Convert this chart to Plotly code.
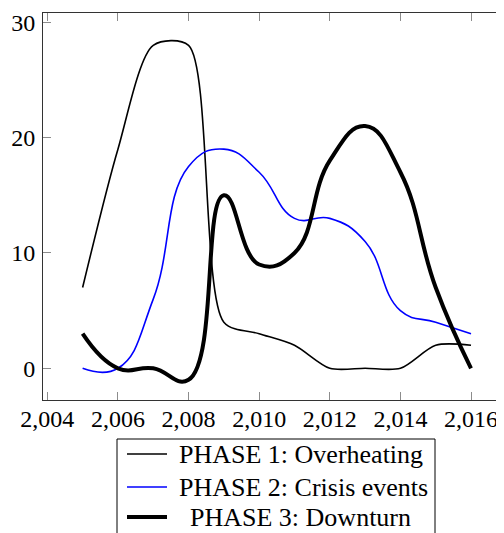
import plotly.graph_objects as go

years = [2005, 2006, 2007, 2008, 2009, 2010, 2011, 2012, 2013, 2014, 2015, 2016]
phase1 = [7, 19, 28, 28, 4, 3, 2, 0, 0, 0, 2, 2]
phase2 = [0, 0, 6, 17.5, 19, 17, 13, 13, 11, 5, 4, 3]
phase3 = [3, 0, 0, -1, 15, 9, 10, 18, 21, 17, 7, 0]
names = ["PHASE 1: Overheating", "PHASE 2: Crisis events", "PHASE 3: Downturn"]
colors = ["black", "#0000ff", "black"]
widths = [1.6, 1.6, 4]
smooth = [0.8, 1.3, 1.3]

xticks = [2004, 2006, 2008, 2010, 2012, 2014, 2016]
yticks = [0, 10, 20, 30]
xrange_ = [2003.878, 2016.934]
yrange_ = [-2.749, 30.806]

FONT = "Liberation Serif"
AXC = "#333333"
TKC = "#8c8c8c"

# page is rendered with an 8px body margin; plot area spans page x 43..504, y 13..400
PL, PR, PT, PB = 43.0, 504.0, 13.0, 400.0
def px(x):
    return (x - PL) / (PR - PL)
def py(y):
    return (PB - y) / (PB - PT)

fig = go.Figure()
for ys, n, c, w, s in zip([phase1, phase2, phase3], names, colors, widths, smooth):
    fig.add_trace(go.Scatter(x=years, y=ys, name=n, mode="lines", showlegend=False,
                             line=dict(color=c, width=w, shape="spline", smoothing=s)))
fig.add_trace(go.Scatter(x=[], y=[], xaxis="x2", yaxis="y2", showlegend=False, hoverinfo="skip"))

# legend drawn as box + sample lines + text
shapes = [dict(type="rect", xref="paper", yref="paper", x0=px(117), x1=px(435),
               y0=py(439), y1=py(580), line=dict(color="black", width=1),
               fillcolor="white", layer="above")]
annotations = []
row_y = [454, 487, 517]
for i, (n, c, w) in enumerate(zip(names, colors, widths)):
    shapes.append(dict(type="line", xref="paper", yref="paper", x0=px(127), x1=px(167),
                       y0=py(row_y[i]), y1=py(row_y[i]), line=dict(color=c, width=w),
                       layer="above"))
    if i < 2:
        annotations.append(dict(x=px(177), y=py(row_y[i]), xref="paper", yref="paper",
                                text=n, showarrow=False, xanchor="left", yanchor="middle",
                                font=dict(family=FONT, size=26, color="black")))
    else:
        annotations.append(dict(x=px(300), y=py(row_y[i]), xref="paper", yref="paper",
                                text=n, showarrow=False, xanchor="center", yanchor="middle",
                                font=dict(family=FONT, size=26, color="black")))

fig.update_layout(
    width=496, height=525,
    margin=dict(l=35, r=0, t=5, b=133, pad=0, autoexpand=False),
    paper_bgcolor="white", plot_bgcolor="white",
    font=dict(family=FONT, size=24, color="black"),
    showlegend=False,
    shapes=shapes, annotations=annotations,
    xaxis=dict(range=xrange_, tickvals=xticks, tickformat=",d", ticks="inside", ticklen=8,
               tickcolor=TKC, tickwidth=1, showline=True, linecolor=AXC, linewidth=1,
               showgrid=False, zeroline=False, ticklabelstandoff=-3, automargin=False),
    yaxis=dict(range=yrange_, tickvals=yticks, ticks="inside", ticklen=8,
               tickcolor=TKC, tickwidth=1, showline=True, linecolor=AXC, linewidth=1,
               showgrid=False, zeroline=False, ticklabelstandoff=2, automargin=False),
    xaxis2=dict(range=xrange_, tickvals=xticks, overlaying="x", side="top", anchor="y",
                ticks="inside", ticklen=8, tickcolor=TKC, showticklabels=False,
                showline=True, linecolor=AXC, linewidth=1, showgrid=False, zeroline=False,
                automargin=False),
    yaxis2=dict(range=yrange_, tickvals=yticks, overlaying="y", side="right", anchor="x",
                ticks="inside", ticklen=4, tickcolor=TKC, showticklabels=False,
                showline=False, showgrid=False, zeroline=False, automargin=False),
)
fig.write_html("out.html")
